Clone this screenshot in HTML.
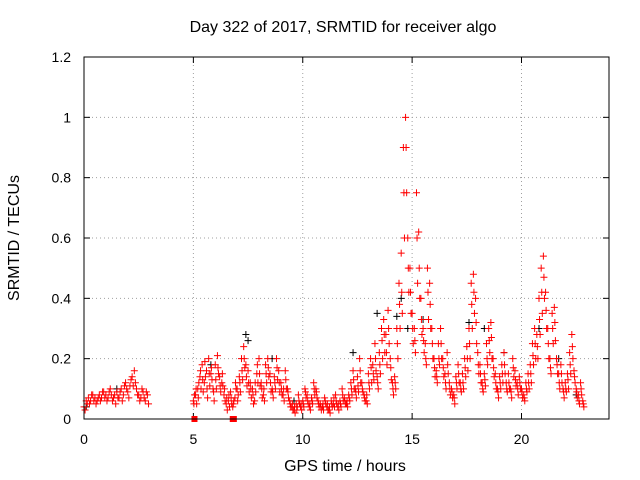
<!DOCTYPE html>
<html><head><meta charset="utf-8"><style>
body{margin:0;background:#fff}
svg{display:block;font-family:"Liberation Sans",sans-serif}
</style></head><body>
<svg id="chart" width="640" height="480">
<rect width="640" height="480" fill="#fff"/>
<text x="343" y="32" font-size="16" text-anchor="middle">Day 322 of 2017, SRMTID for receiver algo</text>
<text x="345" y="471" font-size="16" text-anchor="middle">GPS time / hours</text>
<text transform="translate(19,238) rotate(-90)" font-size="16" text-anchor="middle">SRMTID / TECUs</text>
<g id="grid"></g><g id="ticks"></g><g id="marks"></g>
<rect x="84" y="57" width="525" height="362" fill="none" stroke="#000"/>
</svg>
<script>
const xTicks=[0,5,10,15,20];
const yTicks=[0,0.2,0.4,0.6,0.8,1,1.2];
const yTickLabels=["0","0.2","0.4","0.6","0.8","1","1.2"];
const segA=[.04,.06,.07,.06,.08,.07,.06,.08,.07,.09,.08,.07,.1,.06,.08,.09,.07,.1,.08,.12,.09,.11,.14,.16,.1,.08,.07,.09,.06,.08];
const segA2=[.03,.05,.05,.08,.06,.05,.07,.06,.09,.07,.06,.09,.08,.07,.05,.07,.09,.06,.11,.1,.07,.13,.11,.12,.08,.06,.1,.07,.09,.05];
const segB=[.06,.08,.1,.14,.18,.12,.16,.2,.15,.1,
.18,.21,.14,.12,.08,.05,.06,.09,.04,.07,
.1,.14,.2,.24,.18,.16,.12,.1,.06,.15,
.2,.12,.08,.18,.2,.15,.1,.14,.2,.16,
.12,.08,.16,.1,.06,.04,.03,.05,.08,.04,
.06,.1,.08,.04,.07,.12,.1,.06,.05,.04,
.07,.04,.03,.06,.05,.08,.04,.06,.1,.07,
.05,.08,.12,.16,.1,.14,.2,.12,.08,.06,
.15,.2,.18,.25,.14,.22,.3,.33,.28,.36,
.2,.12,.14,.3,.45,.55,.9,1.0,.6,.5,
.35,.3,.75,.62,.4,.3,.25,.5,.45,.3,
.2,.16,.25,.3,.2,.15,.22,.12,.1,.08,
.14,.18,.12,.15,.2,.24,.3,.45,.48,.4,
.22,.18,.12,.15,.25,.3,.32,.2,.15,.1,
.14,.18,.22,.12,.15,.1,.2,.16,.12,.14,
.1,.08,.12,.15,.18,.25,.3,.28,.4,.5,
.54,.42,.3,.2,.35,.37,.2,.15,.18,.1,
.12,.15,.22,.28,.16,.1,.08,.12,.06];
const segB2=[.08,.05,.12,.1,.09,.14,.07,.11,.13,.06,
.1,.15,.09,.11,.06,.03,.04,.05,.06,.1,
.08,.09,.13,.17,.11,.09,.07,.05,.09,.12,
.11,.07,.06,.12,.14,.09,.07,.1,.13,.09,
.08,.06,.1,.07,.04,.03,.02,.04,.05,.03,
.04,.07,.05,.03,.05,.08,.07,.04,.03,.03,
.05,.03,.02,.04,.04,.05,.03,.04,.06,.05,
.04,.06,.08,.1,.07,.09,.12,.09,.06,.05,
.1,.12,.13,.16,.1,.15,.2,.22,.18,.25,
.13,.08,.1,.2,.3,.35,.6,.75,.42,.35,
.25,.22,.45,.4,.28,.22,.18,.33,.3,.2,
.14,.12,.18,.2,.14,.1,.15,.08,.07,.05,
.1,.12,.09,.1,.14,.16,.2,.3,.35,.25,
.15,.12,.09,.11,.18,.22,.2,.14,.1,.07,
.1,.12,.15,.09,.1,.07,.14,.11,.08,.1,
.07,.06,.09,.1,.12,.18,.2,.2,.28,.35,
.4,.3,.2,.15,.25,.26,.15,.1,.12,.07,
.09,.1,.15,.2,.12,.07,.05,.08,.04];
const segB3=[.05,.1,.07,.16,.13,.19,.1,.15,.17,.09,
.13,.17,.11,.15,.1,.07,.08,.07,.05,.12,
.06,.12,.16,.2,.14,.12,.1,.08,.12,.18,
.15,.1,.1,.15,.17,.12,.09,.12,.17,.12,
.1,.1,.13,.09,.05,.05,.04,.03,.06,.05,
.05,.09,.06,.05,.06,.1,.09,.05,.04,.05,
.06,.05,.04,.05,.07,.06,.05,.05,.08,.06,
.06,.07,.1,.13,.09,.11,.16,.1,.07,.08,
.12,.17,.15,.2,.12,.18,.26,.28,.22,.3,
.17,.1,.12,.25,.38,.42,.75,.9,.5,.42,
.3,.26,.6,.5,.33,.26,.2,.42,.38,.25,
.17,.14,.2,.25,.17,.12,.18,.1,.09,.07,
.12,.15,.1,.12,.17,.2,.25,.38,.42,.32,
.18,.15,.1,.13,.2,.26,.27,.17,.12,.09,
.12,.15,.18,.1,.12,.09,.17,.13,.1,.12,
.09,.07,.1,.12,.15,.21,.25,.24,.33,.42,
.47,.36,.25,.17,.3,.32,.18,.12,.15,.09,
.1,.13,.18,.24,.14,.09,.06,.1,.05];
const blackT=[0.1,1.5,5.8,7.4,7.5,8.6,9.6,12.3,13.4,14.3,14.5,14.8,15.5,17.6,18.3,19.2,20.8,21.7,22.5];
const blackV=[0.04,0.1,0.18,0.28,0.26,0.2,0.06,0.22,0.35,0.34,0.4,0.3,0.33,0.32,0.3,0.22,0.3,0.2,0.08];
const squareT=[5.05,6.8,6.85];
const squareV=[0,0,0];
const X=h=>84+h*21.875, Y=v=>419-v*301.67;
const NS="http://www.w3.org/2000/svg";
function mk(tag,attrs,parent){const e=document.createElementNS(NS,tag);for(const k in attrs)e.setAttribute(k,attrs[k]);parent.appendChild(e);return e;}
const grid=document.getElementById('grid'),ticks=document.getElementById('ticks'),marks=document.getElementById('marks');
xTicks.forEach(t=>{const x=X(t);
 if(t>0){const g=mk('line',{x1:x,x2:x,y1:57,y2:419,stroke:'#a0a0a0','stroke-dasharray':'1,3'},grid);}
 mk('line',{x1:x,x2:x,y1:419,y2:413,stroke:'#000'},ticks);mk('line',{x1:x,x2:x,y1:57,y2:63,stroke:'#000'},ticks);
 const l=mk('text',{x:x,y:444,'font-size':14,'text-anchor':'middle'},ticks);l.textContent=t;
 });
yTicks.forEach((t,i)=>{const y=Y(t);
 if(t>0&&t<1.2){const g=mk('line',{x1:84,x2:609,y1:y,y2:y,stroke:'#a0a0a0','stroke-dasharray':'1,3'},grid);}
 mk('line',{x1:84,x2:90,y1:y,y2:y,stroke:'#000'},ticks);mk('line',{x1:603,x2:609,y1:y,y2:y,stroke:'#000'},ticks);
 const l=mk('text',{x:71,y:y+5,'font-size':14,'text-anchor':'end'},ticks);l.textContent=yTickLabels[i];
 });
function plus(h,v,col){const x=X(h),y=Y(v);
 const p=mk('path',{d:`M${x-3.5},${y}h7M${x},${y-3.5}v7`,stroke:col,'stroke-width':1,fill:'none'},marks);
 }
blackT.forEach((t,i)=>plus(t,blackV[i],'#000'));
segA.forEach((v,i)=>plus(i*0.1,v,'#f00'));
segA2.forEach((v,i)=>plus(i*0.1+0.05,v,'#f00'));
segB.forEach((v,i)=>plus(5+i*0.1,v,'#f00'));
segB2.forEach((v,i)=>plus(5.05+i*0.1,v,'#f00'));
segB3.forEach((v,i)=>plus(5.025+i*0.1,v,'#f00'));
squareT.forEach((t,i)=>{const r=mk('rect',{x:X(t)-3,y:Y(squareV[i])-3,width:6,height:6,fill:'#f00'},marks);
 });
</script>
</body></html>
